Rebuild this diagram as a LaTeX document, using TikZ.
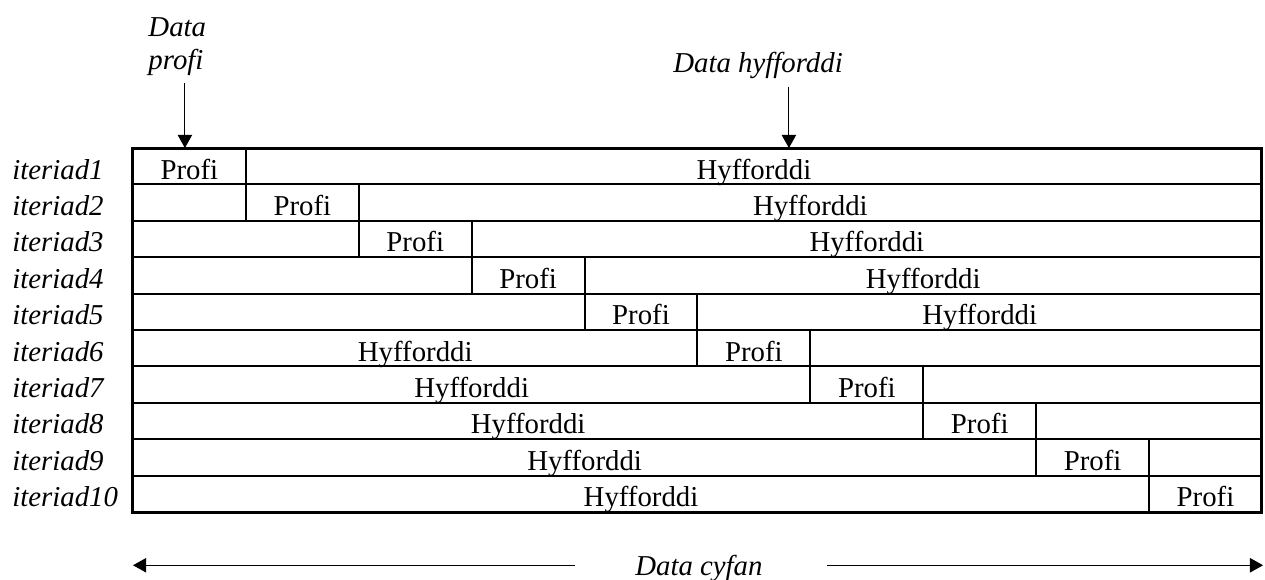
\documentclass[tikz,border=0pt]{standalone}
\usepackage{fontspec}
\setmainfont{Liberation Serif}
\usetikzlibrary{arrows.meta}

\tikzset{
	txt/.style={font=\fontsize{12}{13.75}\selectfont, anchor=base},
	lab/.style={font=\fontsize{12}{13.75}\selectfont\itshape},
	arr/.style={line width=0.45pt, -{Triangle[length=5.5pt, width=6pt]}}
}

\begin{document}
\begin{tikzpicture}[x=47.04pt, y=15.17pt]
		\useasboundingbox (-1.178,4.066) rectangle (10.027,-11.84);
		\foreach \r in {1,...,10}{
			\node[lab, anchor=base west] (it\r) at (-1.143,{0.148-\r}) {iteriad\r};
			\node[txt] (profi\r) at ({\r-0.5},{0.148-\r}) {Profi};
			\ifnum\r<6
				\node[txt] (hyf\r) at ({(\r+10)/2},{0.148-\r}) {Hyfforddi};
			\else
				\node[txt] (hyf\r) at ({(\r-1)/2},{0.148-\r}) {Hyfforddi};
			\fi
			\draw[line width=0.83pt] (0,-\r) -- (10,-\r);
			\draw[line width=0.83pt] ({\r-1},{1-\r}) -- ({\r-1},-\r);
			\draw[line width=0.83pt] (\r,{1-\r}) -- (\r,-\r);
		}
		\draw[line width=1.25pt] (0,0) rectangle (10,-10);
		% labels above
		\node[lab, align=left, text depth=0pt, anchor=south west] (dprofi) at (0.062,1.923) {Data\\profi};
		\node[lab, anchor=base west] (dhyf) at (4.712,2.088) {Data hyfforddi};
		\coordinate (pin) at (0.46,0);
		\coordinate (hin) at (5.81,0);
		\draw[arr] ([yshift=-2pt]dprofi.south -| pin) -- (pin);
		\draw[arr] (dhyf.south -| hin) -- (hin);
		% whole data
		\node[lab, anchor=base] (dall) at (5.013,-11.73) {Data cyfan};
		\coordinate (l1) at (3.915,-11.46);
		\coordinate (l2) at (0,-11.46);
		\coordinate (r1) at (6.147,-11.46);
		\coordinate (r2) at (10.01,-11.46);
		\draw[arr] (l1) -- (l2);
		\draw[arr] (r1) -- (r2);
\end{tikzpicture}
\end{document}
